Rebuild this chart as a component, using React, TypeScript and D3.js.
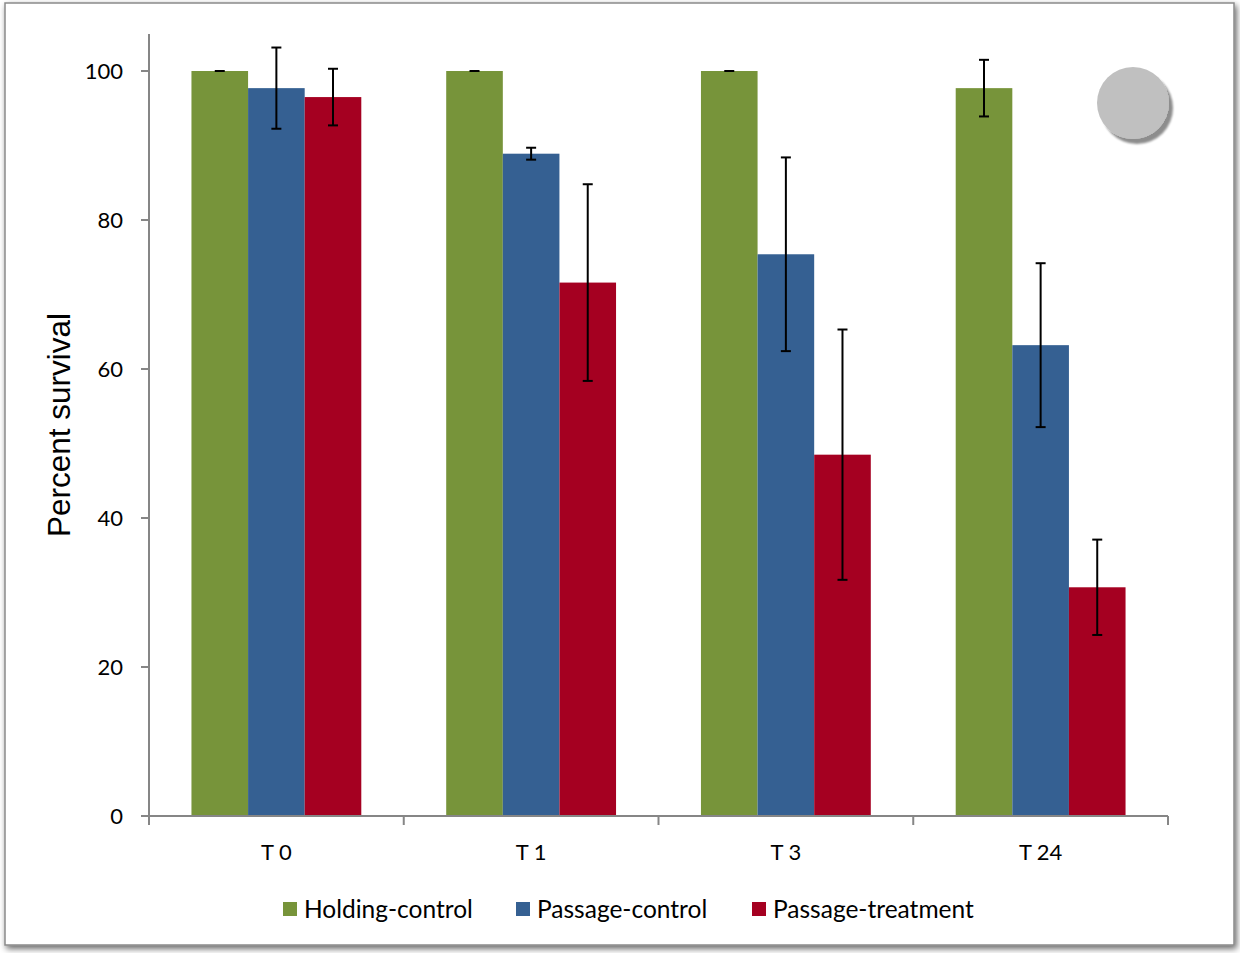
import React from "react";
import * as d3 from "d3";

const categories = ["T 0", "T 1", "T 3", "T 24"];
const seriesNames = ["Holding-control", "Passage-control", "Passage-treatment"];
const seriesColors = ["#77943A", "#356092", "#A50021"];
const holdingControl = [100, 100, 100, 97.7];
const holdingControlErr = [0, 0, 0, 3.8];
const passageControl = [97.7, 88.9, 75.4, 63.2];
const passageControlErr = [5.45, 0.8, 13, 11];
const passageTreatment = [96.5, 71.6, 48.5, 30.7];
const passageTreatmentErr = [3.8, 13.2, 16.8, 6.4];
const yTicks = [0, 20, 40, 60, 80, 100];

const values = [holdingControl, passageControl, passageTreatment];
const errors = [holdingControlErr, passageControlErr, passageTreatmentErr];

const W = 1240, H = 953;

export default function App() {
  const y = d3.scaleLinear().domain([0, 100]).range([816, 71]);
  const x = d3.scaleBand().domain(categories).range([149, 1168]).paddingInner(0).paddingOuter(0);
  const bw = x.bandwidth();
  const barW = bw / 4.5;
  const inner = d3.scaleBand().domain(seriesNames).range([0, barW * 3]);
  const font = "Lato, 'Open Sans', sans-serif";
  const capW = 10;
  return (
    <svg width={W} height={H} style={{ position: "absolute", left: 0, top: 0, background: "#fff" }}
      xmlns="http://www.w3.org/2000/svg">
      <defs>
        <filter id="frameShadow" x="-5%" y="-5%" width="110%" height="110%">
          <feGaussianBlur in="SourceAlpha" stdDeviation="3" />
          <feOffset dx="2" dy="3" result="b" />
          <feComponentTransfer><feFuncA type="linear" slope="0.6" /></feComponentTransfer>
          <feMerge><feMergeNode /><feMergeNode in="SourceGraphic" /></feMerge>
        </filter>
        <filter id="circShadow" x="-30%" y="-30%" width="160%" height="160%">
          <feGaussianBlur in="SourceAlpha" stdDeviation="0.8" />
          <feOffset dx="4" dy="5" />
          <feComponentTransfer><feFuncA type="linear" slope="0.45" /></feComponentTransfer>
          <feMerge><feMergeNode /><feMergeNode in="SourceGraphic" /></feMerge>
        </filter>
      </defs>
      <rect x={5} y={3} width={1229} height={942} fill="#fff" stroke="#8a8a8a" strokeWidth={1.5} filter="url(#frameShadow)" />
      {categories.map((c, ci) => (
        <g key={c} transform={`translate(${(x(c) as number) + (bw - barW * 3) / 2},0)`}>
          {seriesNames.map((s, si) => {
            const v = values[si][ci];
            const e = errors[si][ci];
            const bx = inner(s) as number;
            const cx = bx + barW / 2;
            return (
              <g key={s}>
                <rect x={bx} y={y(v)} width={inner.bandwidth()} height={y(0) - y(v)} fill={seriesColors[si]} />
                {e > 0 && <line x1={cx} x2={cx} y1={y(v + e)} y2={y(v - e)} stroke="#000" strokeWidth={2} />}
                <line x1={cx - capW / 2} x2={cx + capW / 2} y1={y(v + e)} y2={y(v + e)} stroke="#000" strokeWidth={2} />
                {e > 0 && <line x1={cx - capW / 2} x2={cx + capW / 2} y1={y(v - e)} y2={y(v - e)} stroke="#000" strokeWidth={2} />}
              </g>
            );
          })}
        </g>
      ))}
      <line x1={149} x2={149} y1={34} y2={816} stroke="#868686" strokeWidth={2} />
      {yTicks.map((t) => (
        <g key={t}>
          <line x1={141} x2={149} y1={y(t)} y2={y(t)} stroke="#868686" strokeWidth={2} />
          <text x={123} y={y(t)} dy="0.35em" textAnchor="end" fontFamily={font} fontSize={22} fill="#000">{t}</text>
        </g>
      ))}
      <line x1={149} x2={1168} y1={816} y2={816} stroke="#868686" strokeWidth={2} />
      {[...categories.map((c) => x(c) as number), 1168].map((px, i) => (
        <line key={i} x1={px} x2={px} y1={816} y2={825} stroke="#868686" strokeWidth={2} />
      ))}
      {categories.map((c) => (
        <text key={c} x={(x(c) as number) + bw / 2} y={860} textAnchor="middle" fontFamily={font} fontSize={22} fill="#000">{c}</text>
      ))}
      <text transform="translate(70,425) rotate(-90)" textAnchor="middle" fontFamily="'Liberation Sans', Arial, sans-serif" fontSize={31.5} fill="#000">Percent survival</text>
      {seriesNames.map((s, i) => {
        const lx = [283, 516, 752][i];
        return (
          <g key={s}>
            <rect x={lx} y={902} width={14} height={14} fill={seriesColors[i]} />
            <text x={lx + 21} y={918} fontFamily={font} fontSize={24.5} fill="#000">{s}</text>
          </g>
        );
      })}
      <circle cx={1133} cy={103} r={36} fill="#c0c0c0" filter="url(#circShadow)" />
    </svg>
  );
}
